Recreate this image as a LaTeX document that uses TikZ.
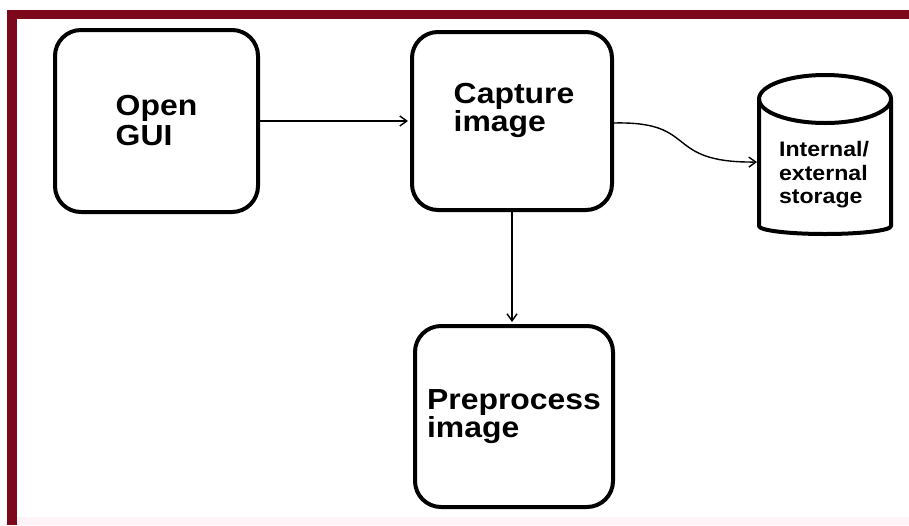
\documentclass[tikz,border=0pt]{standalone}
\usepackage{fontspec}
\setmainfont{Liberation Sans}[FakeStretch=1.1]
\usetikzlibrary{arrows.meta}
\definecolor{framered}{RGB}{125,8,28}
\definecolor{pinkband}{RGB}{254,243,246}
\begin{document}
\begin{tikzpicture}[x=1pt,y=-1pt,
  box/.style={draw, line width=4pt, rounded corners=26pt, align=left, inner sep=0pt,
    font=\bfseries\fontsize{29}{29}\selectfont},
  boxlabel/.style={align=left, inner sep=0pt, font=\bfseries\fontsize{29}{28}\selectfont},
  storelabel/.style={align=left, inner sep=0pt, font=\bfseries\fontsize{21}{23.5}\selectfont},
  conn/.style={line width=1.4pt, shorten >=2pt, -{Straight Barb[length=7pt,width=10pt]}},
  drum/.style={draw, line width=4pt, line join=round}
]
\useasboundingbox (0,0) rectangle (909,525);
\fill[white] (0,0) rectangle (909,525);
\fill[pinkband] (17,517) rectangle (909,525);
\fill[framered] (7,10) rectangle (909,19);
\fill[framered] (7,10) rectangle (17,525);

% boxes
\node[box, minimum width=203pt, minimum height=182pt, font=\bfseries\fontsize{29}{30}\selectfont] (gui) at (156.5,121) {Open\\GUI};
\node[box, minimum width=200pt, minimum height=178pt] (cap) at (512,121) {};
\node[boxlabel] (captxt) at (514,110) {Capture\\image};
\node[box, minimum width=198pt, minimum height=181pt, font=\bfseries\fontsize{29}{28}\selectfont] (pre) at (514,416.5) {Preprocess\\image};

% storage cylinder
\draw[drum] (759,99) -- (759,226) arc[start angle=180, end angle=0, x radius=66, y radius=8] -- (891,99);
\draw[drum] (825,99) ellipse[x radius=66, y radius=24];
\node[storelabel] (store) at (824,175) {Internal/\\external\\storage};
\coordinate (storein) at (759,162);

% connectors
\draw[conn] (gui.east) -- (cap.west);
\draw[conn] (cap.south) -- (cap.south |- pre.north);
\draw[conn] ([yshift=-2pt]cap.east) .. controls (700,121) and (662,163) .. (storein);
\end{tikzpicture}
\end{document}
